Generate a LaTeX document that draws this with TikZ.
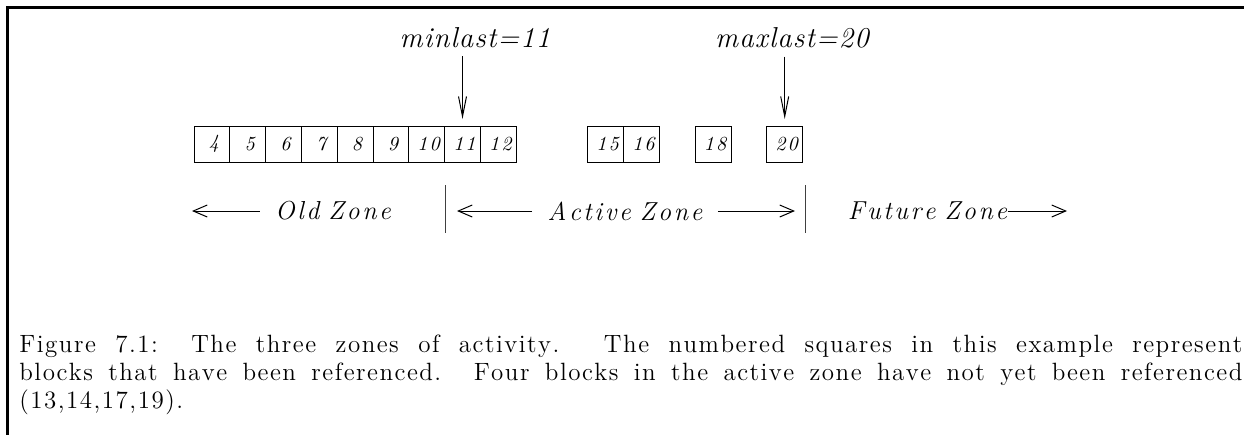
\documentclass[tikz,border=0pt]{standalone}
\usepackage{fontspec}
\usetikzlibrary{positioning,arrows.meta}

% letter spacing by XeTeX inter-character tokens
\ifdefined\newXeTeXintercharclass \newXeTeXintercharclass\lspclass \else \chardef\lspclass=7 \fi
\def\setlsp#1{\ifx\relax#1\else\XeTeXcharclass`#1=\lspclass\relax\expandafter\setlsp\fi}
\setlsp abcdefghijklmnopqrstuvwxyzABCDEFGHIJKLMNOPQRSTUVWXYZ0123456789.,:()=\relax
\def\lspamt{0pt}
\XeTeXinterchartoks\lspclass\lspclass={\kern\lspamt}
\XeTeXinterchartokenstate=1

\begin{document}
\begin{tikzpicture}[x=0.5pt, y=-0.5pt,
  cell/.style={draw, line width=0.5pt, minimum width=17.9pt, minimum height=18pt,
               inner sep=0pt, outer sep=0pt, text width=17.9pt, align=center,
               font=\fontsize{10}{12}\selectfont\itshape\def\lspamt{0.1em}},
  pointer/.style={font=\fontsize{14.4}{17}\selectfont\itshape\def\lspamt{0.04em}, anchor=base},
  zone/.style={font=\fontsize{13}{15}\selectfont\itshape\def\lspamt{0.1em},
               inner xsep=7.5pt},
  pin/.style={-{Straight Barb[length=10pt,width=4pt]}, line width=0.5pt,
              shorten >=3.5pt, shorten <=1pt},
  zonearrow/.style={-{Straight Barb[length=7pt,width=6pt]}, line width=0.5pt},
  divider/.style={line width=0.5pt, black!75}]

\useasboundingbox (0,0) rectangle (1244,435);
\draw[line width=1.6pt] (1244,7.5) -- (7.5,7.5) -- (7.5,435);

% referenced blocks
\node[cell, anchor=north west] (c4) at (194,126) {\hspace*{2pt}4};
\foreach \n [remember=\n as \p (initially 4)] in {5,...,12}
  \node[cell, right=0pt of c\p] (c\n) {\hspace*{2pt}\n};
\node[cell, right=35.8pt of c12] (c15) {\hspace*{2pt}15};
\node[cell, right=0pt of c15] (c16) {\hspace*{2pt}16};
\node[cell, right=17.9pt of c16] (c18) {\hspace*{2pt}18};
\node[cell, right=17.9pt of c18] (c20) {\hspace*{2pt}20};

% pointers
\node[pointer] (minlast) at (475,47) {minlast=11};
\node[pointer] (maxlast) at (792,47) {maxlast=20};
\draw[pin] (minlast.south -| c11) -- (c11.north);
\draw[pin] (maxlast.south -| c20) -- (c20.north);

% zones
\node[zone] (oldz)    at (333,211)   {Old Zone};
\node[zone] (activez) at (625,211)   {Active Zone};
\node[zone] (futurez) at (927.5,211) {Future Zone};

\coordinate (oldend)    at (192,211);
\coordinate (activel)   at (457,211);
\coordinate (activer)   at (795,211);
\coordinate (futureend) at (1067,211);

\draw[zonearrow] (oldz.west) -- (oldz.west -| oldend);
\draw[zonearrow] (activez.west) -- (activez.west -| activel);
\draw[zonearrow] (activez.east) -- (activez.east -| activer);
\draw[zonearrow, shorten <=-7.5pt] (futurez.east) -- (futurez.east -| futureend);

\coordinate (sepa) at (445,185);
\coordinate (sepb) at (805,185);
\draw[divider] (sepa) -- ++(0,48);
\draw[divider] (sepb) -- ++(0,48);

% caption
\node[anchor=base west, inner sep=0pt, text width=611.5pt, align=justify,
      font=\fontsize{12.5}{14}\selectfont\def\lspamt{0.06em}] (caption) at (19,352)
  {Figure 7.1: The three zones of activity.  The numbered squares in this example represent\linebreak
   blocks that have been referenced. Four blocks in the active zone have not yet been referenced\linebreak
   (13,14,17,19).};
\end{tikzpicture}
\end{document}
